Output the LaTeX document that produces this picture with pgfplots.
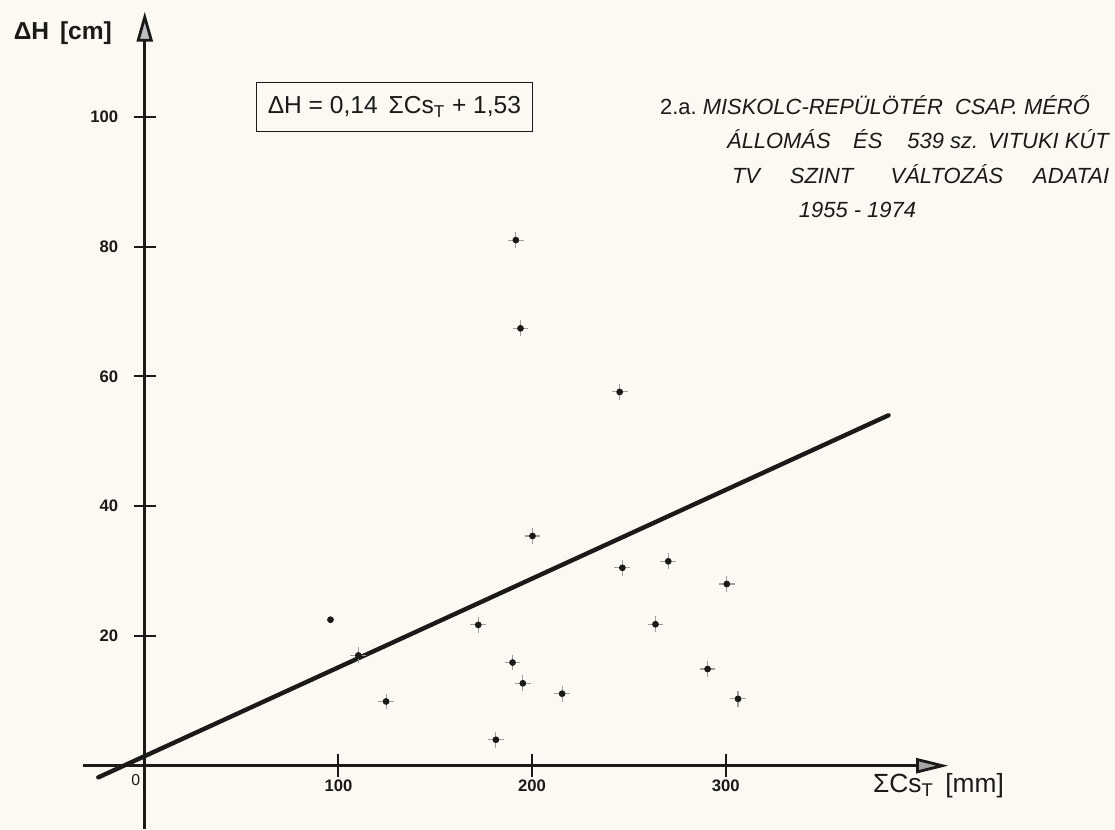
\documentclass[border=0pt]{standalone}
\usepackage{fontspec}
\setmainfont{Liberation Sans}
\usepackage{pgfplots}
\usepackage{pgfplotstable}
\pgfplotsset{compat=1.18}
\usetikzlibrary{arrows.meta,backgrounds}

\definecolor{paper}{RGB}{251,249,242}
\definecolor{ink}{RGB}{28,26,24}

% SumCs_T [mm] vs dH [cm], 1955-1974
\pgfplotstableread{
x     y
95.9  22.5
110.3 17.0
124.6 9.9
172.2 21.7
189.9 15.9
195.2 12.7
215.5 11.1
181.3 4.0
191.6 81.0
194.0 67.4
245.2 57.6
200.2 35.4
246.6 30.5
270.3 31.5
300.5 28.0
263.7 21.8
290.6 14.9
306.3 10.3
}\pts

\begin{document}
\begin{tikzpicture}[show background rectangle, inner frame sep=0pt,
  background rectangle/.style={fill=paper, draw=none}]
\begin{axis}[
  x=0.0388cm, y=0.13cm,
  xmin=-32, xmax=415, ymin=-9.69, ymax=116.2,
  axis lines=middle,
  axis line style={ink, line width=1.6pt},
  x axis line style={-{Triangle[length=0.65cm,width=0.3cm,fill=gray!70]}},
  y axis line style={-{Triangle[length=0.6cm,width=0.32cm,fill=gray!50]}},
  xtick={100,200,300}, ytick={20,40,60,80,100},
  tick align=center, major tick length=0.45cm,
  tick style={ink, line width=1.1pt},
  /pgf/number format/assume math mode=true,
  tick label style={font=\fontsize{9.5}{11}\selectfont\bfseries, text=ink, inner sep=0pt},
  xticklabel style={anchor=north, yshift=-0.06cm},
  yticklabel style={anchor=east, xshift=-0.30cm},
  clip=false,
]
% picture frame
\path (axis cs:-74.74,-9.69) rectangle (axis cs:500,118.0);

% regression line
\addplot[ink, line width=2.5pt, line cap=round] coordinates {(-24,-1.8) (384,54)};

% measured points
\addplot[only marks, mark=+, mark size=4.5pt, gray!75, mark options={line width=0.6pt},
  skip coords between index={0}{1}] table[x=x, y=y] {\pts};
\addplot[only marks, mark=*, mark size=1.7pt, ink] table[x=x, y=y] {\pts};

% labels
\node[font=\fontsize{14}{16}\selectfont\bfseries, text=ink] at (axis cs:-42.3,112.9) {ΔH\, [cm]};
\node[font=\fontsize{15}{17}\selectfont, text=ink] at (axis cs:409.8,-3.1) {ΣCs\textsubscript{T}\, [mm]};
\node[font=\fontsize{9}{11}\selectfont, text=ink] at (axis cs:-4.6,-2.15) {0};

\node[draw=ink, line width=0.6pt, minimum width=5.52cm, minimum height=0.98cm,
  font=\fontsize{14}{16}\selectfont, text=ink] at (axis cs:128.9,101.5)
  {ΔH = 0,14 \,ΣCs\textsubscript{T} + 1,53};

\node[anchor=west, font=\fontsize{12.5}{15}\selectfont\itshape, text=ink] at (axis cs:262.9,101.8)
  {\upshape 2.a.\ \itshape MISKOLC-REPÜLÖTÉR\ \ CSAP. MÉRŐ};
\node[anchor=west, font=\fontsize{12.5}{15}\selectfont\itshape, text=ink] at (axis cs:297.5,96.5)
  {ÁLLOMÁS\hspace{0.45cm}ÉS\hspace{0.5cm}539 sz.\hspace{0.2cm}VITUKI KÚT};
\node[anchor=west, font=\fontsize{12.5}{15}\selectfont\itshape, text=ink] at (axis cs:300.0,91.1)
  {TV\hspace{0.6cm}SZINT\hspace{0.75cm}VÁLTOZÁS\hspace{0.6cm}ADATAI};
\node[font=\fontsize{12.5}{15}\selectfont\itshape, text=ink] at (axis cs:368,85.7)
  {1955 - 1974};
\end{axis}
\end{tikzpicture}
\end{document}
